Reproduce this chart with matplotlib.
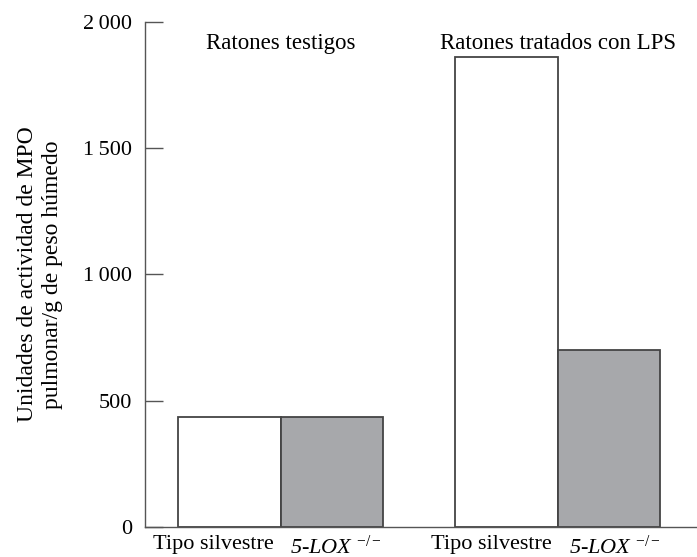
import matplotlib
matplotlib.use("Agg")
import matplotlib.pyplot as plt

# datos
grupos = ["Ratones testigos", "Ratones tratados con LPS"]
genotipos = ["Tipo silvestre", "5-LOX ${}^{-/-}$"]
testigos = [435, 435]
lps = [1860, 700]
valores = testigos + lps
colores = ["white", "#a7a8ab", "white", "#a7a8ab"]
yticks = [0, 500, 1000, 1500, 2000]
ytick_labels = ["0", "500", "1\u2009000", "1\u2009500", "2\u2009000"]

plt.rcParams["font.family"] = ["Liberation Serif", "DejaVu Serif"]
plt.rcParams["mathtext.fontset"] = "custom"
plt.rcParams["mathtext.rm"] = "Liberation Serif"
plt.rcParams["mathtext.it"] = "Liberation Serif:italic"

fig = plt.figure(figsize=(6.97, 5.57), dpi=100)
ax = fig.add_axes([0.208, 0.054, 0.792, 0.9065])

pos = [0, 1, 2.7, 3.7]
ax.bar(pos, valores, width=1.0, color=colores, edgecolor="#444444", linewidth=1.3)

ax.set_xlim(-0.824, 4.56)
ax.set_ylim(0, 2000)
ax.set_yticks(yticks)
ax.set_yticklabels(ytick_labels, fontsize=16)
ax.tick_params(axis="y", direction="in", length=13, width=1, color="#555555", pad=9)

# etiquetas un poco desplazadas respecto al centro de las barras, como en el original
pos_etiquetas = [-0.16, 1.04, 2.55, 3.76]
ax.set_xticks(pos_etiquetas)
ax.set_xticklabels(genotipos * 2, fontsize=16)
for i, lab in enumerate(ax.get_xticklabels()):
    if i % 2 == 1:
        lab.set_fontstyle("italic")
ax.tick_params(axis="x", length=0, pad=6)

for s in ["top", "right"]:
    ax.spines[s].set_visible(False)
for s in ["left", "bottom"]:
    ax.spines[s].set_color("#555555")
    ax.spines[s].set_linewidth(1)

ax.text(0.5, 0.958, grupos[0], transform=ax.get_xaxis_transform(), ha="center", va="center", fontsize=16.5)
ax.text(3.2, 0.958, grupos[1], transform=ax.get_xaxis_transform(), ha="center", va="center", fontsize=16.5)

ax.set_ylabel("Unidades de actividad de MPO\npulmonar/g de peso húmedo", fontsize=17, labelpad=15,
              linespacing=1.2)

fig.savefig("out.png", dpi=100)
